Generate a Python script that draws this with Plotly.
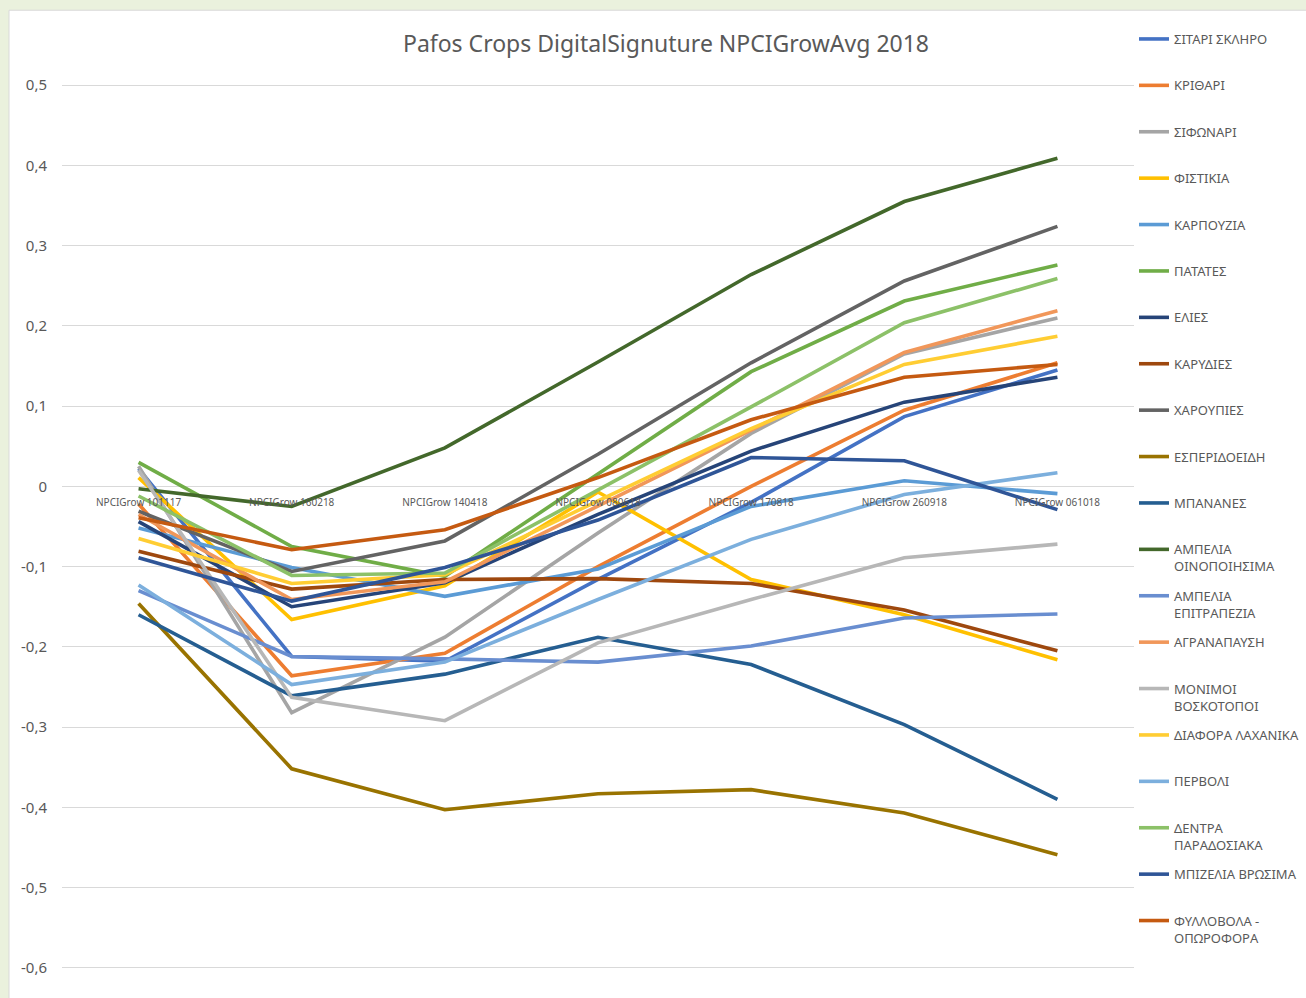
import plotly.graph_objects as go

categories = ["NPCIGrow 101117", "NPCIGrow 160218", "NPCIGrow 140418", "NPCIGrow 080618",
              "NPCIGrow 170818", "NPCIGrow 260918", "NPCIGrow 061018"]

series_names = ["ΣΙΤΑΡΙ ΣΚΛΗΡΟ", "ΚΡΙΘΑΡΙ", "ΣΙΦΩΝΑΡΙ", "ΦΙΣΤΙΚΙΑ", "ΚΑΡΠΟΥΖΙΑ", "ΠΑΤΑΤΕΣ",
                "ΕΛΙΕΣ", "ΚΑΡΥΔΙΕΣ", "ΧΑΡΟΥΠΙΕΣ", "ΕΣΠΕΡΙΔΟΕΙΔΗ", "ΜΠΑΝΑΝΕΣ",
                "ΑΜΠΕΛΙΑ<br>ΟΙΝΟΠΟΙΗΣΙΜΑ", "ΑΜΠΕΛΙΑ<br>ΕΠΙΤΡΑΠΕΖΙΑ", "ΑΓΡΑΝΑΠΑΥΣΗ",
                "ΜΟΝΙΜΟΙ<br>ΒΟΣΚΟΤΟΠΟΙ", "ΔΙΑΦΟΡΑ ΛΑΧΑΝΙΚΑ", "ΠΕΡΒΟΛΙ",
                "ΔΕΝΤΡΑ<br>ΠΑΡΑΔΟΣΙΑΚΑ", "ΜΠΙΖΕΛΙΑ ΒΡΩΣΙΜΑ", "ΦΥΛΛΟΒΟΛΑ -<br>ΟΠΩΡΟΦΟΡΑ"]

sitari = [0.022, -0.212, -0.218, -0.116, -0.020, 0.087, 0.145]
krithari = [-0.022, -0.236, -0.208, -0.100, 0.000, 0.095, 0.154]
sifonari = [0.025, -0.282, -0.188, -0.058, 0.066, 0.165, 0.210]
fistikia = [0.011, -0.166, -0.124, -0.007, -0.116, -0.160, -0.216]
karpouzia = [-0.052, -0.101, -0.137, -0.103, -0.025, 0.007, -0.009]
patates = [0.030, -0.075, -0.112, 0.015, 0.143, 0.231, 0.276]
elies = [-0.044, -0.150, -0.120, -0.035, 0.044, 0.105, 0.136]
karydies = [-0.081, -0.128, -0.116, -0.115, -0.121, -0.154, -0.205]
charoupies = [-0.031, -0.106, -0.068, 0.040, 0.154, 0.256, 0.324]
esperidoeidi = [-0.146, -0.352, -0.403, -0.383, -0.378, -0.407, -0.459]
bananes = [-0.160, -0.261, -0.234, -0.188, -0.222, -0.297, -0.390]
ampelia_oino = [-0.003, -0.025, 0.048, 0.155, 0.264, 0.355, 0.409]
ampelia_epitr = [-0.130, -0.212, -0.215, -0.219, -0.199, -0.164, -0.159]
agranapafsi = [-0.035, -0.141, -0.119, -0.025, 0.070, 0.167, 0.219]
monimoi = [0.020, -0.263, -0.292, -0.195, -0.141, -0.089, -0.072]
diafora = [-0.065, -0.121, -0.110, -0.018, 0.072, 0.152, 0.187]
pervoli = [-0.123, -0.247, -0.219, -0.141, -0.066, -0.010, 0.017]
dentra = [-0.012, -0.111, -0.108, -0.005, 0.099, 0.204, 0.259]
bizelia = [-0.089, -0.143, -0.101, -0.042, 0.036, 0.032, -0.029]
fyllovola = [-0.039, -0.079, -0.054, 0.011, 0.083, 0.136, 0.152]

series_values = [sitari, krithari, sifonari, fistikia, karpouzia, patates, elies, karydies,
                 charoupies, esperidoeidi, bananes, ampelia_oino, ampelia_epitr, agranapafsi,
                 monimoi, diafora, pervoli, dentra, bizelia, fyllovola]

colors = ["#4472C4", "#ED7D31", "#A5A5A5", "#FFC000", "#5B9BD5", "#70AD47",
          "#264478", "#9E480E", "#636363", "#997300", "#255E91", "#43682B",
          "#698ED0", "#F1975A", "#B7B7B7", "#FFCD33", "#7CAFDD", "#8CC168",
          "#2F5597", "#C55A11"]

y_tickvals = [0.5, 0.4, 0.3, 0.2, 0.1, 0, -0.1, -0.2, -0.3, -0.4, -0.5, -0.6]
y_ticktext = ["0,5", "0,4", "0,3", "0,2", "0,1", "0", "-0,1", "-0,2", "-0,3", "-0,4", "-0,5", "-0,6"]

FONT = "Noto Sans, Open Sans, DejaVu Sans, sans-serif"
TEXT_COLOR = "#595959"

fig = go.Figure()
for i, (name, vals, col) in enumerate(zip(series_names, series_values, colors)):
    label = name if "<br>" in name else name + "<br>\u00a0"
    fig.add_trace(go.Scatter(
        x=categories, y=vals, mode="lines", name=label,
        line=dict(color=col, width=3.6), legendgroup=f"g{i}"))

W, H = 1306, 998
YMIN, YMAX = -0.6, 0.5
TOP_PX, BOT_PX = 85, 968          # pixel rows of 0.5 and -0.6 gridlines
EPS = 0.004                       # small pad so edge gridlines are drawn
scale = (BOT_PX - TOP_PX) / (YMAX - YMIN)
L, R = 62, 172
T = TOP_PX - EPS * scale
B = (H - BOT_PX) - EPS * scale
pw, ph = W - L - R, H - T - B

def px_to_paper_x(px):
    return (px - L) / pw

def px_to_paper_y(py):
    return (H - B - py) / ph

fig.add_shape(type="rect", xref="paper", yref="paper",
              x0=px_to_paper_x(9), x1=px_to_paper_x(1320),
              y0=px_to_paper_y(1010), y1=px_to_paper_y(10),
              fillcolor="white", line=dict(color="#D9D9D9", width=1), layer="below")

fig.update_layout(
    width=W, height=H,
    margin=dict(l=L, r=R, t=T, b=B, autoexpand=False),
    paper_bgcolor="#EAF1DD",
    plot_bgcolor="white",
    font=dict(family=FONT, color=TEXT_COLOR),
    title=dict(text="Pafos Crops DigitalSignuture NPCIGrowAvg 2018",
               x=666 / W, xanchor="center", xref="container",
               y=1 - 44 / H, yanchor="middle", yref="container",
               font=dict(size=23, color=TEXT_COLOR, family=FONT)),
    xaxis=dict(type="category", range=[-0.5, 6.5], showgrid=False, zeroline=False,
               showline=False, ticks="", anchor="free",
               position=(0 - (YMIN - EPS)) / (YMAX - YMIN + 2 * EPS), ticklabelstandoff=9,
               tickfont=dict(size=10, color=TEXT_COLOR, family=FONT)),
    yaxis=dict(range=[YMIN - EPS, YMAX + EPS], tickvals=y_tickvals, ticktext=y_ticktext,
               showgrid=True, gridcolor="#D9D9D9", gridwidth=1.3, zeroline=False,
               showline=False, ticks="", ticklabelstandoff=14,
               tickfont=dict(size=15, color=TEXT_COLOR, family=FONT)),
    legend=dict(x=px_to_paper_x(1134), xanchor="left",
                yref="container", y=1 - 24 / H, yanchor="top",
                maxheight=990,
                tracegroupgap=9.6, valign="top", bgcolor="rgba(0,0,0,0)",
                font=dict(size=13, color=TEXT_COLOR, family=FONT)),
    showlegend=True,
)

fig.write_html("out.html", config={"displayModeBar": False},
               post_script="document.body.style.margin='0';")
